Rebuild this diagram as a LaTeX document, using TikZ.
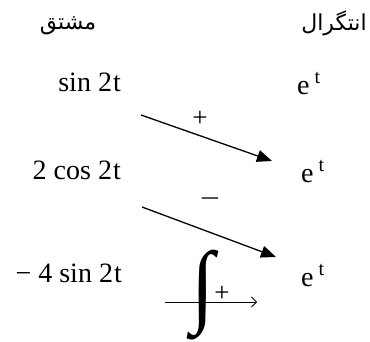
\documentclass[tikz,border=0pt]{standalone}
\usepackage{fontspec}
\usepackage{graphicx}
\setmainfont{Liberation Serif}
\newfontfamily\arabicfont[Script=Arabic]{DejaVu Sans}
\TeXXeTstate=1
\usetikzlibrary{arrows.meta}
\newcommand{\expt}{e\hspace{5pt}\raisebox{11pt}{\fontsize{20}{24}\selectfont t}}

\begin{document}
\begin{tikzpicture}[
  x=1pt, y=-1pt,
  font=\fontsize{28}{32}\selectfont,
  head/.style={inner sep=0pt, font=\fontsize{22}{26}\selectfont\arabicfont},
  term/.style={inner sep=0pt},
  sign/.style={inner sep=0pt, font=\fontsize{27}{30}\selectfont},
  bigarrow/.style={line width=1.3pt, -{Triangle[length=15pt, width=12pt]}},
  thinarrow/.style={line width=0.8pt, -{Straight Barb[length=5pt, width=10pt]}}
]
  \useasboundingbox (0,0) rectangle (370,342);
  \node[head] (hd) at (68,26) {\beginR مشتق\endR};
  \node[head] (hi) at (334,23) {\beginR انتگرال\endR};
  \node[term, anchor=base east] (d1) at (121,92) {sin 2\hspace{1pt}t};
  \node[term, anchor=base east] (d2) at (121,180) {2 cos 2\hspace{1pt}t};
  \node[term, anchor=base east] (d3) at (122,283) {− 4 sin 2\hspace{1pt}t};
  \node[term, anchor=base west] (i1) at (297,95) {\expt};
  \node[term, anchor=base west] (i2) at (301,183) {\expt};
  \node[term, anchor=base west] (i3) at (301,287) {\expt};
  \coordinate (a1s) at (141,115);
  \coordinate (a1e) at (272,161);
  \coordinate (a2s) at (142,207);
  \coordinate (a2e) at (276,257);
  \coordinate (h0) at (165,302);
  \coordinate (h1) at (257,302);
  \draw[bigarrow] (a1s) -- (a1e);
  \draw[bigarrow] (a2s) -- (a2e);
  \node[sign] (s1) at (200,119) {+};
  \node[sign] (s2) at (210,203) {\scalebox{1.3}[1]{−}};
  \draw[thinarrow] (h0) -- (h1);
  \node[term] (int) at (203,295) {\resizebox*{23pt}{90pt}{∫}};
  \node[sign] (s3) at (222,294) {+};
\end{tikzpicture}
\end{document}
